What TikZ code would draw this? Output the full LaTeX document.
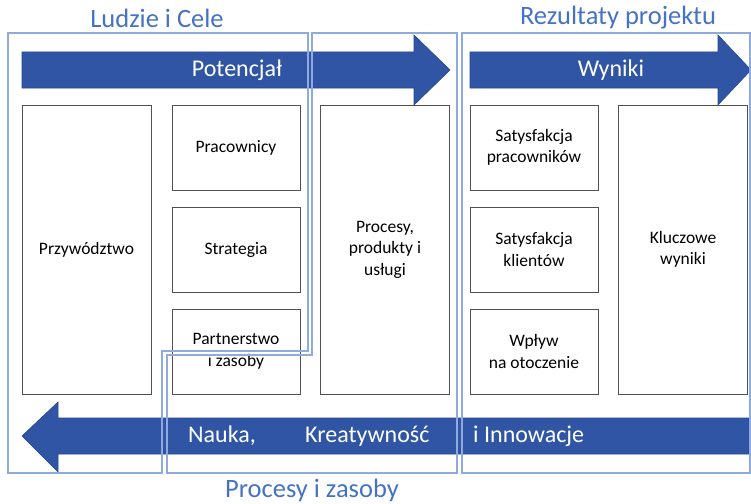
\documentclass[tikz,border=0pt]{standalone}
\usepackage{fontspec}
\setmainfont{Carlito}
\definecolor{arrowblue}{RGB}{47,85,164}
\definecolor{arrowedge}{RGB}{40,72,140}
\definecolor{framelight}{RGB}{143,170,220}
\definecolor{titleblue}{RGB}{68,114,196}
\definecolor{boxgray}{RGB}{80,80,80}
\tikzset{
  box/.style={draw=boxgray, line width=0.8pt, fill=white, align=center,
    font=\fontsize{17.5}{21.5}\selectfont, inner sep=0pt},
  smallbox/.style={box, minimum width=128, minimum height=85},
  tallbox/.style={box, minimum width=129, minimum height=289},
  bigarrow/.style={fill=arrowblue, draw=arrowedge, line width=0.6pt},
  arrowtext/.style={text=white, font=\fontsize{24}{28}\selectfont, inner sep=0pt},
  frame/.style={draw=framelight, line width=1.6pt},
  frametitle/.style={text=titleblue, font=\fontsize{26.5}{30}\selectfont, inner sep=0pt},
}
\begin{document}
\begin{tikzpicture}[x=1pt, y=-1pt]
\useasboundingbox (0,0) rectangle (751,503);

% flow arrows
\fill[bigarrow] (22,52) -- (414,52) -- (414,35) -- (450,70) -- (414,105)
  -- (414,88) -- (22,88) -- cycle;
\fill[bigarrow] (470,52) -- (718,52) -- (718,35) -- (751,70) -- (718,105)
  -- (718,88) -- (470,88) -- cycle;
\fill[bigarrow] (749,418) -- (58,418) -- (58,402) -- (22,436) -- (58,472)
  -- (58,454) -- (749,454) -- cycle;

\node[arrowtext] (potencjal) at (237,70) {Potencjał};
\node[arrowtext] (wyniki) at (611,70) {Wyniki};
\node[arrowtext, anchor=west] (nauka) at (188,436) {Nauka,};
\node[arrowtext, anchor=west] (kreat) at (305,436) {Kreatywność};
\node[arrowtext, anchor=west] (innow) at (473,436) {i Innowacje};

% enablers
\node[tallbox] (lead) at (86.5,249.5) {Przywództwo};
\node[smallbox] (staff) at (236,147.5) {Pracownicy};
\node[smallbox] (strat) at (236,249.5) {Strategia};
\node[smallbox] (partner) at (236,351.5) {Partnerstwo\\i zasoby};
\node[tallbox] (proc) at (385,249.5) {Procesy,\\produkty i\\usługi};

% results
\node[smallbox] (satstaff) at (534,147.5) {Satysfakcja\\pracowników};
\node[smallbox] (satclient) at (534,249.5) {Satysfakcja\\klientów};
\node[smallbox] (impact) at (534,351.5) {Wpływ\\na otoczenie};
\node[tallbox] (keyres) at (683,249.5) {Kluczowe\\wyniki};

% grouping frames
\draw[frame] (8,33) -- (308,33) -- (308,351) -- (162,351) -- (162,473)
  -- (8,473) -- cycle;
\draw[frame] (312,33) -- (457,33) -- (457,473) -- (167,473) -- (167,355)
  -- (312,355) -- cycle;
\draw[frame] (462,33) -- (750,33) -- (750,473) -- (462,473) -- cycle;

\node[frametitle] (t1) at (157,18) {Ludzie i Cele};
\node[frametitle] (t2) at (618,18) {Rezultaty projektu};
\node[frametitle] (t3) at (312,490) {Procesy i zasoby};
\end{tikzpicture}
\end{document}
